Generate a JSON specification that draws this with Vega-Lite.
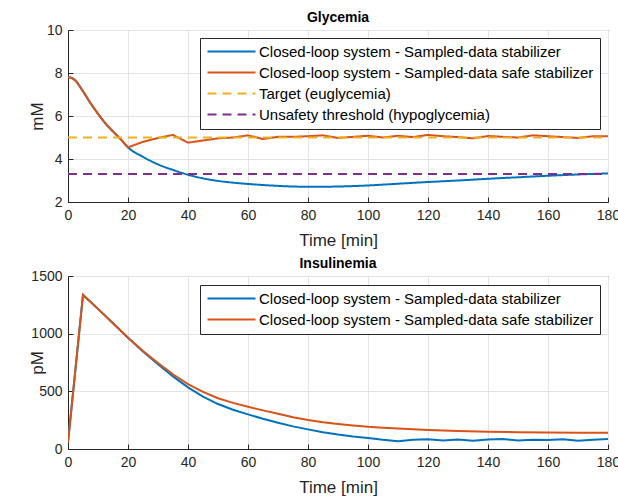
{
  "$schema": "https://vega.github.io/schema/vega-lite/v6.json",
  "background": "white",
  "padding": {"left": 27, "top": 10, "right": 5, "bottom": 4},
  "spacing": 74,
  "bounds": "flush",
  "config": {
    "font": "Liberation Sans",
    "view": {"stroke": "#262626", "strokeWidth": 1},
    "axis": {
      "grid": true,
      "gridColor": "#e3e3e3",
      "gridWidth": 1,
      "domainColor": "#262626",
      "tickColor": "#262626",
      "tickSize": -5,
      "labelFlush": false,
      "labelColor": "#262626",
      "labelFontSize": 14,
      "labelFont": "Liberation Sans",
      "titleFont": "Liberation Sans",
      "titleFontSize": 17,
      "titleFontWeight": "normal",
      "titleColor": "#262626"
    },
    "title": {"font": "Liberation Sans", "fontSize": 14, "fontWeight": "bold", "color": "black", "offset": -2},
    "legend": {
      "orient": "none",
      "symbolType": "M-1,0H7",
      "symbolSize": 144,
      "symbolStrokeWidth": 2,
      "strokeColor": "#262626",
      "fillColor": "white",
      "padding": 6,
      "labelFont": "Liberation Sans",
      "labelFontSize": 15,
      "labelColor": "black",
      "labelLimit": 500,
      "labelOffset": 38,
      "rowPadding": 5,
      "cornerRadius": 0
    }
  },
  "datasets": {
    "gly": [
      {"t": 0, "v": 7.8, "s": "Closed-loop system - Sampled-data stabilizer"},
      {"t": 1, "v": 7.78, "s": "Closed-loop system - Sampled-data stabilizer"},
      {"t": 2.5, "v": 7.65, "s": "Closed-loop system - Sampled-data stabilizer"},
      {"t": 5, "v": 7.15, "s": "Closed-loop system - Sampled-data stabilizer"},
      {"t": 7.5, "v": 6.6, "s": "Closed-loop system - Sampled-data stabilizer"},
      {"t": 10, "v": 6.1, "s": "Closed-loop system - Sampled-data stabilizer"},
      {"t": 12.5, "v": 5.65, "s": "Closed-loop system - Sampled-data stabilizer"},
      {"t": 15, "v": 5.28, "s": "Closed-loop system - Sampled-data stabilizer"},
      {"t": 17.5, "v": 4.93, "s": "Closed-loop system - Sampled-data stabilizer"},
      {"t": 20, "v": 4.54, "s": "Closed-loop system - Sampled-data stabilizer"},
      {"t": 25, "v": 4.1, "s": "Closed-loop system - Sampled-data stabilizer"},
      {"t": 30, "v": 3.75, "s": "Closed-loop system - Sampled-data stabilizer"},
      {"t": 35, "v": 3.49, "s": "Closed-loop system - Sampled-data stabilizer"},
      {"t": 40, "v": 3.27, "s": "Closed-loop system - Sampled-data stabilizer"},
      {"t": 45, "v": 3.1, "s": "Closed-loop system - Sampled-data stabilizer"},
      {"t": 50, "v": 2.98, "s": "Closed-loop system - Sampled-data stabilizer"},
      {"t": 55, "v": 2.9, "s": "Closed-loop system - Sampled-data stabilizer"},
      {"t": 60, "v": 2.84, "s": "Closed-loop system - Sampled-data stabilizer"},
      {"t": 65, "v": 2.79, "s": "Closed-loop system - Sampled-data stabilizer"},
      {"t": 70, "v": 2.75, "s": "Closed-loop system - Sampled-data stabilizer"},
      {"t": 75, "v": 2.72, "s": "Closed-loop system - Sampled-data stabilizer"},
      {"t": 80, "v": 2.71, "s": "Closed-loop system - Sampled-data stabilizer"},
      {"t": 85, "v": 2.71, "s": "Closed-loop system - Sampled-data stabilizer"},
      {"t": 90, "v": 2.72, "s": "Closed-loop system - Sampled-data stabilizer"},
      {"t": 95, "v": 2.74, "s": "Closed-loop system - Sampled-data stabilizer"},
      {"t": 100, "v": 2.77, "s": "Closed-loop system - Sampled-data stabilizer"},
      {"t": 110, "v": 2.85, "s": "Closed-loop system - Sampled-data stabilizer"},
      {"t": 120, "v": 2.93, "s": "Closed-loop system - Sampled-data stabilizer"},
      {"t": 130, "v": 3.0, "s": "Closed-loop system - Sampled-data stabilizer"},
      {"t": 140, "v": 3.08, "s": "Closed-loop system - Sampled-data stabilizer"},
      {"t": 150, "v": 3.15, "s": "Closed-loop system - Sampled-data stabilizer"},
      {"t": 160, "v": 3.22, "s": "Closed-loop system - Sampled-data stabilizer"},
      {"t": 170, "v": 3.28, "s": "Closed-loop system - Sampled-data stabilizer"},
      {"t": 180, "v": 3.33, "s": "Closed-loop system - Sampled-data stabilizer"},

      {"t": 0, "v": 7.8, "s": "Closed-loop system - Sampled-data safe stabilizer"},
      {"t": 1, "v": 7.78, "s": "Closed-loop system - Sampled-data safe stabilizer"},
      {"t": 2.5, "v": 7.65, "s": "Closed-loop system - Sampled-data safe stabilizer"},
      {"t": 5, "v": 7.15, "s": "Closed-loop system - Sampled-data safe stabilizer"},
      {"t": 7.5, "v": 6.6, "s": "Closed-loop system - Sampled-data safe stabilizer"},
      {"t": 10, "v": 6.1, "s": "Closed-loop system - Sampled-data safe stabilizer"},
      {"t": 12.5, "v": 5.65, "s": "Closed-loop system - Sampled-data safe stabilizer"},
      {"t": 15, "v": 5.28, "s": "Closed-loop system - Sampled-data safe stabilizer"},
      {"t": 17.5, "v": 4.93, "s": "Closed-loop system - Sampled-data safe stabilizer"},
      {"t": 20, "v": 4.54, "s": "Closed-loop system - Sampled-data safe stabilizer"},
      {"t": 25, "v": 4.8, "s": "Closed-loop system - Sampled-data safe stabilizer"},
      {"t": 30, "v": 4.98, "s": "Closed-loop system - Sampled-data safe stabilizer"},
      {"t": 35, "v": 5.12, "s": "Closed-loop system - Sampled-data safe stabilizer"},
      {"t": 40, "v": 4.76, "s": "Closed-loop system - Sampled-data safe stabilizer"},
      {"t": 45, "v": 4.86, "s": "Closed-loop system - Sampled-data safe stabilizer"},
      {"t": 50, "v": 4.96, "s": "Closed-loop system - Sampled-data safe stabilizer"},
      {"t": 55, "v": 5.0, "s": "Closed-loop system - Sampled-data safe stabilizer"},
      {"t": 60, "v": 5.1, "s": "Closed-loop system - Sampled-data safe stabilizer"},
      {"t": 65, "v": 4.93, "s": "Closed-loop system - Sampled-data safe stabilizer"},
      {"t": 70, "v": 5.03, "s": "Closed-loop system - Sampled-data safe stabilizer"},
      {"t": 75, "v": 5.03, "s": "Closed-loop system - Sampled-data safe stabilizer"},
      {"t": 80, "v": 5.06, "s": "Closed-loop system - Sampled-data safe stabilizer"},
      {"t": 85, "v": 5.1, "s": "Closed-loop system - Sampled-data safe stabilizer"},
      {"t": 90, "v": 4.98, "s": "Closed-loop system - Sampled-data safe stabilizer"},
      {"t": 95, "v": 5.03, "s": "Closed-loop system - Sampled-data safe stabilizer"},
      {"t": 100, "v": 5.08, "s": "Closed-loop system - Sampled-data safe stabilizer"},
      {"t": 105, "v": 5.0, "s": "Closed-loop system - Sampled-data safe stabilizer"},
      {"t": 110, "v": 5.08, "s": "Closed-loop system - Sampled-data safe stabilizer"},
      {"t": 115, "v": 5.02, "s": "Closed-loop system - Sampled-data safe stabilizer"},
      {"t": 120, "v": 5.12, "s": "Closed-loop system - Sampled-data safe stabilizer"},
      {"t": 125, "v": 5.06, "s": "Closed-loop system - Sampled-data safe stabilizer"},
      {"t": 130, "v": 5.02, "s": "Closed-loop system - Sampled-data safe stabilizer"},
      {"t": 135, "v": 4.96, "s": "Closed-loop system - Sampled-data safe stabilizer"},
      {"t": 140, "v": 5.07, "s": "Closed-loop system - Sampled-data safe stabilizer"},
      {"t": 145, "v": 5.03, "s": "Closed-loop system - Sampled-data safe stabilizer"},
      {"t": 150, "v": 5.0, "s": "Closed-loop system - Sampled-data safe stabilizer"},
      {"t": 155, "v": 5.1, "s": "Closed-loop system - Sampled-data safe stabilizer"},
      {"t": 160, "v": 5.06, "s": "Closed-loop system - Sampled-data safe stabilizer"},
      {"t": 165, "v": 5.02, "s": "Closed-loop system - Sampled-data safe stabilizer"},
      {"t": 170, "v": 4.98, "s": "Closed-loop system - Sampled-data safe stabilizer"},
      {"t": 175, "v": 5.06, "s": "Closed-loop system - Sampled-data safe stabilizer"},
      {"t": 180, "v": 5.06, "s": "Closed-loop system - Sampled-data safe stabilizer"},

      {"t": 0, "v": 5, "s": "Target (euglycemia)"},
      {"t": 180, "v": 5, "s": "Target (euglycemia)"},
      {"t": 0, "v": 3.3, "s": "Unsafety threshold (hypoglycemia)"},
      {"t": 180, "v": 3.3, "s": "Unsafety threshold (hypoglycemia)"}
    ],
    "ins": [
      {"t": 0, "v": 57, "s": "Closed-loop system - Sampled-data stabilizer"},
      {"t": 5, "v": 1336, "s": "Closed-loop system - Sampled-data stabilizer"},
      {"t": 10, "v": 1215, "s": "Closed-loop system - Sampled-data stabilizer"},
      {"t": 15, "v": 1090, "s": "Closed-loop system - Sampled-data stabilizer"},
      {"t": 20, "v": 965, "s": "Closed-loop system - Sampled-data stabilizer"},
      {"t": 25, "v": 845, "s": "Closed-loop system - Sampled-data stabilizer"},
      {"t": 30, "v": 735, "s": "Closed-loop system - Sampled-data stabilizer"},
      {"t": 35, "v": 630, "s": "Closed-loop system - Sampled-data stabilizer"},
      {"t": 40, "v": 535, "s": "Closed-loop system - Sampled-data stabilizer"},
      {"t": 45, "v": 455, "s": "Closed-loop system - Sampled-data stabilizer"},
      {"t": 50, "v": 390, "s": "Closed-loop system - Sampled-data stabilizer"},
      {"t": 55, "v": 340, "s": "Closed-loop system - Sampled-data stabilizer"},
      {"t": 60, "v": 300, "s": "Closed-loop system - Sampled-data stabilizer"},
      {"t": 65, "v": 262, "s": "Closed-loop system - Sampled-data stabilizer"},
      {"t": 70, "v": 228, "s": "Closed-loop system - Sampled-data stabilizer"},
      {"t": 75, "v": 196, "s": "Closed-loop system - Sampled-data stabilizer"},
      {"t": 80, "v": 170, "s": "Closed-loop system - Sampled-data stabilizer"},
      {"t": 85, "v": 145, "s": "Closed-loop system - Sampled-data stabilizer"},
      {"t": 90, "v": 125, "s": "Closed-loop system - Sampled-data stabilizer"},
      {"t": 95, "v": 108, "s": "Closed-loop system - Sampled-data stabilizer"},
      {"t": 100, "v": 95, "s": "Closed-loop system - Sampled-data stabilizer"},
      {"t": 105, "v": 80, "s": "Closed-loop system - Sampled-data stabilizer"},
      {"t": 110, "v": 68, "s": "Closed-loop system - Sampled-data stabilizer"},
      {"t": 115, "v": 80, "s": "Closed-loop system - Sampled-data stabilizer"},
      {"t": 120, "v": 85, "s": "Closed-loop system - Sampled-data stabilizer"},
      {"t": 125, "v": 74, "s": "Closed-loop system - Sampled-data stabilizer"},
      {"t": 130, "v": 82, "s": "Closed-loop system - Sampled-data stabilizer"},
      {"t": 135, "v": 72, "s": "Closed-loop system - Sampled-data stabilizer"},
      {"t": 140, "v": 82, "s": "Closed-loop system - Sampled-data stabilizer"},
      {"t": 145, "v": 86, "s": "Closed-loop system - Sampled-data stabilizer"},
      {"t": 150, "v": 74, "s": "Closed-loop system - Sampled-data stabilizer"},
      {"t": 155, "v": 80, "s": "Closed-loop system - Sampled-data stabilizer"},
      {"t": 160, "v": 78, "s": "Closed-loop system - Sampled-data stabilizer"},
      {"t": 165, "v": 84, "s": "Closed-loop system - Sampled-data stabilizer"},
      {"t": 170, "v": 72, "s": "Closed-loop system - Sampled-data stabilizer"},
      {"t": 175, "v": 80, "s": "Closed-loop system - Sampled-data stabilizer"},
      {"t": 180, "v": 86, "s": "Closed-loop system - Sampled-data stabilizer"},

      {"t": 0, "v": 57, "s": "Closed-loop system - Sampled-data safe stabilizer"},
      {"t": 5, "v": 1336, "s": "Closed-loop system - Sampled-data safe stabilizer"},
      {"t": 10, "v": 1215, "s": "Closed-loop system - Sampled-data safe stabilizer"},
      {"t": 15, "v": 1090, "s": "Closed-loop system - Sampled-data safe stabilizer"},
      {"t": 20, "v": 965, "s": "Closed-loop system - Sampled-data safe stabilizer"},
      {"t": 25, "v": 850, "s": "Closed-loop system - Sampled-data safe stabilizer"},
      {"t": 30, "v": 745, "s": "Closed-loop system - Sampled-data safe stabilizer"},
      {"t": 35, "v": 648, "s": "Closed-loop system - Sampled-data safe stabilizer"},
      {"t": 40, "v": 563, "s": "Closed-loop system - Sampled-data safe stabilizer"},
      {"t": 45, "v": 495, "s": "Closed-loop system - Sampled-data safe stabilizer"},
      {"t": 50, "v": 440, "s": "Closed-loop system - Sampled-data safe stabilizer"},
      {"t": 55, "v": 400, "s": "Closed-loop system - Sampled-data safe stabilizer"},
      {"t": 60, "v": 366, "s": "Closed-loop system - Sampled-data safe stabilizer"},
      {"t": 65, "v": 335, "s": "Closed-loop system - Sampled-data safe stabilizer"},
      {"t": 70, "v": 305, "s": "Closed-loop system - Sampled-data safe stabilizer"},
      {"t": 75, "v": 276, "s": "Closed-loop system - Sampled-data safe stabilizer"},
      {"t": 80, "v": 251, "s": "Closed-loop system - Sampled-data safe stabilizer"},
      {"t": 85, "v": 232, "s": "Closed-loop system - Sampled-data safe stabilizer"},
      {"t": 90, "v": 217, "s": "Closed-loop system - Sampled-data safe stabilizer"},
      {"t": 95, "v": 204, "s": "Closed-loop system - Sampled-data safe stabilizer"},
      {"t": 100, "v": 193, "s": "Closed-loop system - Sampled-data safe stabilizer"},
      {"t": 105, "v": 185, "s": "Closed-loop system - Sampled-data safe stabilizer"},
      {"t": 110, "v": 178, "s": "Closed-loop system - Sampled-data safe stabilizer"},
      {"t": 115, "v": 171, "s": "Closed-loop system - Sampled-data safe stabilizer"},
      {"t": 120, "v": 165, "s": "Closed-loop system - Sampled-data safe stabilizer"},
      {"t": 130, "v": 157, "s": "Closed-loop system - Sampled-data safe stabilizer"},
      {"t": 140, "v": 150, "s": "Closed-loop system - Sampled-data safe stabilizer"},
      {"t": 150, "v": 145, "s": "Closed-loop system - Sampled-data safe stabilizer"},
      {"t": 160, "v": 142, "s": "Closed-loop system - Sampled-data safe stabilizer"},
      {"t": 170, "v": 140, "s": "Closed-loop system - Sampled-data safe stabilizer"},
      {"t": 180, "v": 140, "s": "Closed-loop system - Sampled-data safe stabilizer"}
    ]
  },
  "vconcat": [
    {
      "width": 540,
      "height": 172,
      "title": {"text": "Glycemia"},
      "data": {"name": "gly"},
      "encoding": {
        "x": {"field": "t", "type": "quantitative", "scale": {"domain": [0, 180], "nice": false},
              "axis": {"values": [0, 20, 40, 60, 80, 100, 120, 140, 160, 180], "title": "Time [min]", "labelPadding": 11, "titlePadding": 10}},
        "y": {"field": "v", "type": "quantitative", "scale": {"domain": [2, 10], "nice": false},
              "axis": {"values": [2, 4, 6, 8, 10], "title": "mM", "titleX": -31, "titleBaseline": "middle", "titleAlign": "center", "titleAngle": -90, "labelPadding": 11}},
        "color": {"field": "s", "type": "nominal",
                  "scale": {"domain": ["Closed-loop system - Sampled-data stabilizer", "Closed-loop system - Sampled-data safe stabilizer", "Target (euglycemia)", "Unsafety threshold (hypoglycemia)"],
                            "range": ["#0072BD", "#D95319", "#EDB120", "#7E2F8E"]},
                  "legend": {"title": null, "legendX": 132, "legendY": 8}},
        "strokeDash": {"field": "s", "type": "nominal",
                  "scale": {"domain": ["Closed-loop system - Sampled-data stabilizer", "Closed-loop system - Sampled-data safe stabilizer", "Target (euglycemia)", "Unsafety threshold (hypoglycemia)"],
                            "range": [[1, 0], [1, 0], [9, 6], [9, 6]]},
                  "legend": {"title": null, "legendX": 132, "legendY": 8}}
      },
      "layer": [
        {"transform": [{"filter": "datum.s == 'Closed-loop system - Sampled-data stabilizer'"}],
         "mark": {"type": "line", "interpolate": "monotone", "strokeWidth": 2, "clip": true}},
        {"transform": [{"filter": "datum.s == 'Closed-loop system - Sampled-data safe stabilizer'"}],
         "mark": {"type": "line", "strokeWidth": 2, "clip": true}},
        {"transform": [{"filter": "datum.s == 'Target (euglycemia)'"}],
         "mark": {"type": "line", "strokeWidth": 2, "clip": true}},
        {"transform": [{"filter": "datum.s == 'Unsafety threshold (hypoglycemia)'"}],
         "mark": {"type": "line", "strokeWidth": 2, "clip": true}}
      ]
    },
    {
      "width": 540,
      "height": 173,
      "title": {"text": "Insulinemia"},
      "data": {"name": "ins"},
      "encoding": {
        "x": {"field": "t", "type": "quantitative", "scale": {"domain": [0, 180], "nice": false},
              "axis": {"values": [0, 20, 40, 60, 80, 100, 120, 140, 160, 180], "title": "Time [min]", "labelPadding": 11, "titlePadding": 10}},
        "y": {"field": "v", "type": "quantitative", "scale": {"domain": [0, 1500], "nice": false},
              "axis": {"values": [0, 500, 1000, 1500], "format": "d", "title": "pM", "titleX": -31, "titleBaseline": "middle", "titleAlign": "center", "titleAngle": -90, "labelPadding": 11}},
        "color": {"field": "s", "type": "nominal",
                  "scale": {"domain": ["Closed-loop system - Sampled-data stabilizer", "Closed-loop system - Sampled-data safe stabilizer"],
                            "range": ["#0072BD", "#D95319"]},
                  "legend": {"title": null, "legendX": 132, "legendY": 9}}
      },
      "layer": [
        {"transform": [{"filter": "datum.s == 'Closed-loop system - Sampled-data stabilizer'"}],
         "mark": {"type": "line", "strokeWidth": 2, "clip": true}},
        {"transform": [{"filter": "datum.s == 'Closed-loop system - Sampled-data safe stabilizer'"}],
         "mark": {"type": "line", "strokeWidth": 2, "clip": true}}
      ]
    }
  ],
  "resolve": {"scale": {"color": "independent", "strokeDash": "independent"}, "legend": {"color": "independent"}}
}
